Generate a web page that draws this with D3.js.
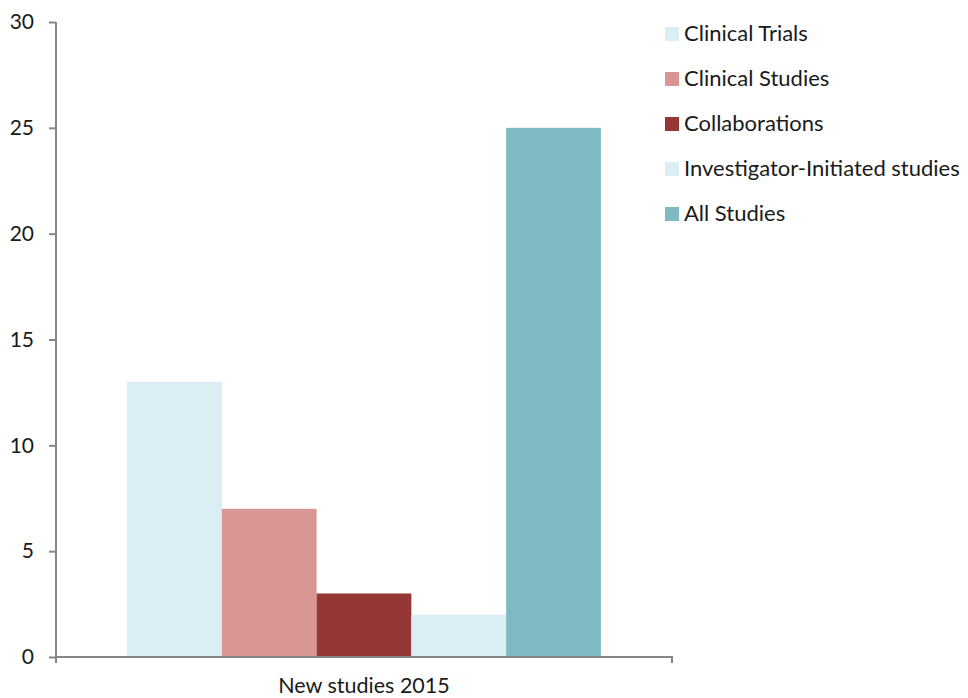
<!DOCTYPE html>
<html>
<head>
<meta charset="utf-8">
<script src="https://cdn.jsdelivr.net/npm/d3@7"></script>
<style>
  body { margin: 0; background: #fff; }
  svg { display: block; }
  text { font-family: Lato, 'Open Sans', sans-serif; }
</style>
</head>
<body>
<script>
// data
const category = 'New studies 2015'
const seriesNames = [
  'Clinical Trials',
  'Clinical Studies',
  'Collaborations',
  'Investigator-Initiated studies',
  'All Studies'
]
const seriesValues = [13, 7, 3, 2, 25]
const seriesColors = ['#daeef3', '#d99694', '#953735', '#daeef3', '#7fb9c1']
const yTicks = [0, 5, 10, 15, 20, 25, 30]

const outerWidth = 968
const outerHeight = 698
const margin = { left: 56, top: 22, right: 296, bottom: 41 }
const innerWidth = outerWidth - margin.left - margin.right
const innerHeight = outerHeight - margin.top - margin.bottom

const axisGray = '#868686'
const textColor = '#1a1a1a'

const svg = d3
  .select('body')
  .append('svg')
  .attr('width', outerWidth)
  .attr('height', outerHeight)

const g = svg
  .append('g')
  .attr('transform', `translate(${margin.left},${margin.top})`)

const yScale = d3.scaleLinear().domain([0, 30]).range([innerHeight, 0])

const xScale = d3
  .scaleBand()
  .domain([category])
  .range([0, innerWidth])
  .paddingInner(0)
  .paddingOuter(0.15)

const seriesScale = d3
  .scaleBand()
  .domain(seriesNames)
  .range([0, xScale.bandwidth()])

// bars
g.selectAll('.bar')
  .data(seriesNames.map((name, i) => ({ name, value: seriesValues[i], color: seriesColors[i] })))
  .enter()
  .append('rect')
  .attr('class', 'bar')
  .attr('x', d => xScale(category) + seriesScale(d.name))
  .attr('y', d => yScale(d.value))
  .attr('width', seriesScale.bandwidth())
  .attr('height', d => innerHeight - yScale(d.value))
  .style('fill', d => d.color)

// y axis
const yAxisG = g.append('g').attr('class', 'y axis')
yAxisG.call(d3.axisLeft(yScale).tickValues(yTicks).tickSize(7).tickPadding(15))
yAxisG
  .attr('font-size', 21)
  .attr('font-family', 'Lato, sans-serif')
yAxisG.select('.domain').attr('d', `M0,${yScale(30)}V${innerHeight + 6}`)
yAxisG.selectAll('line').style('stroke', axisGray).style('stroke-width', 2)
yAxisG.select('.domain').style('stroke', axisGray).style('stroke-width', 2)
yAxisG.selectAll('text').attr('fill', textColor)

// x axis
const xAxisG = g
  .append('g')
  .attr('class', 'x axis')
  .attr('transform', `translate(0,${innerHeight})`)
xAxisG
  .append('path')
  .attr('d', `M0,0H${innerWidth}V6`)
  .style('fill', 'none')
  .style('stroke', axisGray)
  .style('stroke-width', 2)
xAxisG
  .append('text')
  .attr('x', xScale(category) + xScale.bandwidth() / 2)
  .attr('y', 36)
  .style('text-anchor', 'middle')
  .style('font-size', '21.5px')
  .style('fill', textColor)
  .text(category)

// legend
const legend = svg
  .append('g')
  .attr('transform', 'translate(665,33)')
  .selectAll('.legend')
  .data(seriesNames)
  .enter()
  .append('g')
  .attr('class', 'legend')
  .attr('transform', (d, i) => `translate(0,${i * 45})`)

legend
  .append('rect')
  .attr('x', 0)
  .attr('y', -6)
  .attr('width', 14)
  .attr('height', 14)
  .style('fill', (d, i) => seriesColors[i])

legend
  .append('text')
  .attr('x', 19)
  .attr('y', 0)
  .attr('dy', '0.35em')
  .style('font-size', '22px')
  .style('fill', textColor)
  .text(d => d)
</script>
</body>
</html>
